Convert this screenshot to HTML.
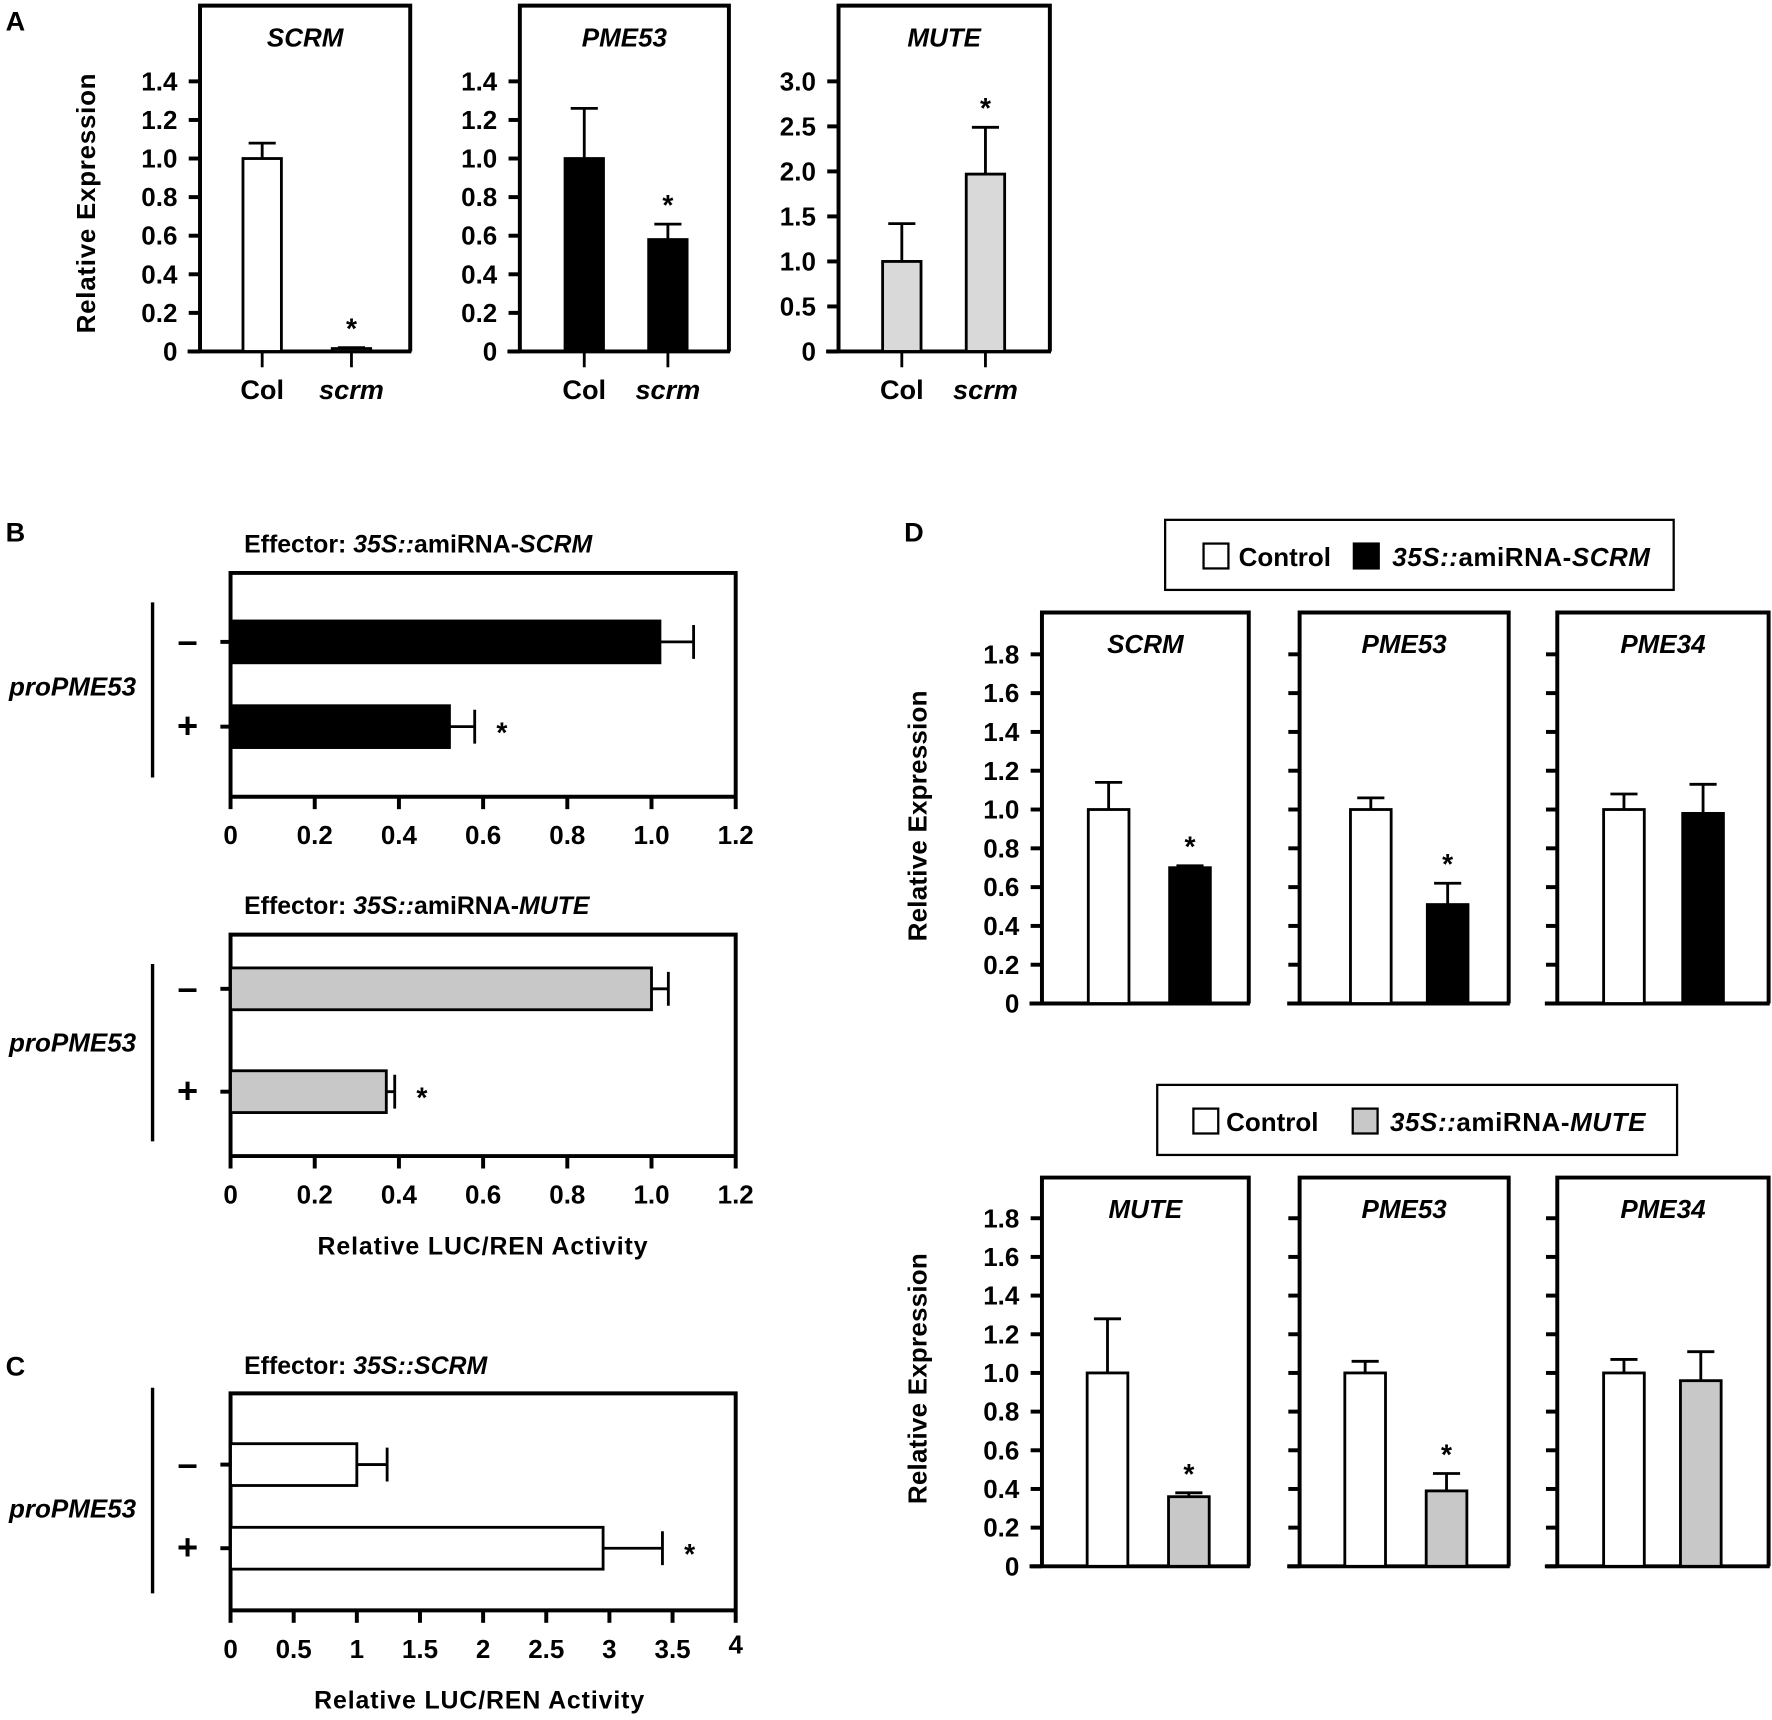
<!DOCTYPE html>
<html><head><meta charset="utf-8"><style>
html,body{margin:0;padding:0;background:#fff}
svg{display:block}
text{font-family:"Liberation Sans Narrow","Liberation Sans",sans-serif;font-weight:bold;fill:#000}
.it{font-style:italic}
</style></head><body>
<svg id="fig" xmlns="http://www.w3.org/2000/svg" width="1772" height="1720" viewBox="0 0 1568 1522" preserveAspectRatio="none">
<g id="static">
<text x="5" y="27" font-size="24">A</text>
<text x="5" y="479" font-size="24">B</text>
<text x="5" y="1217" font-size="24">C</text>
<text x="800" y="479" font-size="24">D</text>
<text transform="translate(84,180) rotate(-90)" text-anchor="middle" font-size="23" textLength="230">Relative  Expression</text>
<text transform="translate(820,722) rotate(-90)" text-anchor="middle" font-size="23" textLength="222">Relative Expression</text>
<text transform="translate(820,1220) rotate(-90)" text-anchor="middle" font-size="23" textLength="222">Relative Expression</text>
<text x="216" y="489" font-size="22">Effector: <tspan class="it">35S::</tspan>amiRNA-<tspan class="it">SCRM</tspan></text>
<text x="216" y="809" font-size="22">Effector: <tspan class="it">35S::</tspan>amiRNA-<tspan class="it">MUTE</tspan></text>
<text x="216" y="1216" font-size="22">Effector: <tspan class="it">35S::SCRM</tspan></text>
<text x="427" y="1110" text-anchor="middle" font-size="22" textLength="292">Relative LUC/REN Activity</text>
<text x="424" y="1512" text-anchor="middle" font-size="22" textLength="292">Relative LUC/REN Activity</text>
<g>
<rect x="1031" y="460" width="450" height="62" fill="#fff" stroke="#000" stroke-width="2"/>
<rect x="1065" y="481" width="22" height="22" fill="#fff" stroke="#000" stroke-width="2"/>
<text x="1096" y="501" font-size="23">Control</text>
<rect x="1198" y="481" width="22" height="22" fill="#000" stroke="#000" stroke-width="2"/>
<text x="1232" y="501" font-size="23" textLength="228"><tspan class="it">35S::</tspan>amiRNA-<tspan class="it">SCRM</tspan></text>
</g>
<g>
<rect x="1024" y="960" width="460" height="62" fill="#fff" stroke="#000" stroke-width="2"/>
<rect x="1056" y="981" width="22" height="22" fill="#fff" stroke="#000" stroke-width="2"/>
<text x="1085" y="1001" font-size="23">Control</text>
<rect x="1197" y="981" width="22" height="22" fill="#c8c8c8" stroke="#000" stroke-width="2"/>
<text x="1230" y="1001" font-size="23" textLength="226"><tspan class="it">35S::</tspan>amiRNA-<tspan class="it">MUTE</tspan></text>
</g>
</g>
<g id="charts"></g>
</svg>
<script>
// ---- Panel A data ----
const aGenes = ["SCRM", "PME53", "MUTE"];
const aCategories = ["Col", "scrm"];
const aScrmValues = [1.0, 0.015];
const aScrmErrors = [1.08, 0.02];
const aPme53Values = [1.0, 0.58];
const aPme53Errors = [1.26, 0.66];
const aMuteValues = [1.0, 1.97];
const aMuteErrors = [1.42, 2.49];
const aSignif = [[false, true], [false, true], [false, true]];
const aTicks14 = ["0", "0.2", "0.4", "0.6", "0.8", "1.0", "1.2", "1.4"];
const aTicks30 = ["0", "0.5", "1.0", "1.5", "2.0", "2.5", "3.0"];
// ---- Panel B/C data ----
const bRows = ["–", "+"];
const bScrmValues = [1.02, 0.52];
const bScrmErrors = [1.10, 0.58];
const bMuteValues = [1.00, 0.37];
const bMuteErrors = [1.04, 0.39];
const bTicks = ["0", "0.2", "0.4", "0.6", "0.8", "1.0", "1.2"];
const cScrmValues = [1.0, 2.95];
const cScrmErrors = [1.24, 3.42];
const cTicks = ["0", "0.5", "1", "1.5", "2", "2.5", "3", "3.5", "4"];
const bcSignif = [false, true];
// ---- Panel D data ----
const dTopGenes = ["SCRM", "PME53", "PME34"];
const dTopControl = [1.0, 1.0, 1.0];
const dTopControlErr = [1.14, 1.06, 1.08];
const dTopTreated = [0.70, 0.51, 0.98];
const dTopTreatedErr = [0.71, 0.62, 1.13];
const dTopSignif = [true, true, false];
const dBotGenes = ["MUTE", "PME53", "PME34"];
const dBotControl = [1.0, 1.0, 1.0];
const dBotControlErr = [1.28, 1.06, 1.07];
const dBotTreated = [0.36, 0.39, 0.96];
const dBotTreatedErr = [0.38, 0.48, 1.11];
const dBotSignif = [true, true, false];
const dTicks = ["0", "0.2", "0.4", "0.6", "0.8", "1.0", "1.2", "1.4", "1.6", "1.8"];

const NS = "http://www.w3.org/2000/svg";
const root = document.getElementById("charts");
function mk(tag, attrs, parent, txt) {
  const e = document.createElementNS(NS, tag);
  for (const k in attrs) e.setAttribute(k, attrs[k]);
  if (txt !== undefined) e.textContent = txt;
  (parent || root).appendChild(e);
  return e;
}
function grp(name) {
  const g = mk("g", {});
  
  
  return g;
}

function vchart(o) {
  const g = grp(o.name);
  const y = v => o.y0 - (v / o.max) * (o.y0 - o.yTop);
  const frame = mk("path", {d: `M${o.left},${o.y0} L${o.left},${o.boxTop} L${o.right},${o.boxTop} L${o.right},${o.y0}`, fill: "none", stroke: "#000", "stroke-width": 3.5}, g);
  
  
  const ax = mk("line", {x1: o.left - 11, x2: o.right + 1, y1: o.y0, y2: o.y0, stroke: "#000", "stroke-width": 3.5}, g);
  
  
  o.ticks.forEach((t, i) => {
    const v = parseFloat(t);
    const ty = y(v);
    const tk = mk("line", {x1: o.left - 10, x2: o.left, y1: ty, y2: ty, stroke: "#000", "stroke-width": 3.5}, g);
    
    
    if (o.labels) {
      const tl = mk("text", {x: o.left - 20, y: ty + 8, "text-anchor": "end", "font-size": 23}, g, t);
      
      
    }
  });
  const tt = mk("text", {x: (o.left + o.right) / 2, y: o.boxTop + 36, "text-anchor": "middle", "font-size": 23, class: "it"}, g, o.title);
  
  
  o.values.forEach((v, i) => {
    const cx = o.centers[i];
    const by = y(v), ey = y(o.errors[i]);
    const ebar = mk("path", {d: `M${cx},${by} L${cx},${ey} M${cx - 12},${ey} L${cx + 12},${ey}`, stroke: "#000", "stroke-width": 2.5, fill: "none"}, g);
    
    
    const b = mk("rect", {x: cx - o.bw / 2, y: by, width: o.bw, height: Math.max(o.y0 - by, 1), fill: o.fills[i], stroke: "#000", "stroke-width": 2.5}, g);
    
    
    if (o.signif[i]) {
      const s = mk("text", {x: cx, y: ey - 8, "text-anchor": "middle", "font-size": 25}, g, "*");
      
      
    }
    if (o.cats) {
      const ct = mk("line", {x1: cx, x2: cx, y1: o.y0, y2: o.y0 + 14, stroke: "#000", "stroke-width": 2.5}, g);
      
      
      const cl = mk("text", {x: cx, y: o.y0 + 42, "text-anchor": "middle", "font-size": 24, class: i === 1 ? "it" : ""}, g, o.cats[i]);
      
      
    }
  });
}

function hchart(o) {
  const g = grp(o.name);
  const x = v => o.left + (v / o.max) * (o.right - o.left);
  const fr = mk("path", {d: `M${o.left},${o.y0} L${o.left},${o.top} L${o.right},${o.top} L${o.right},${o.y0}`, fill: "none", stroke: "#000", "stroke-width": 3.5}, g);
  
  
  const ax = mk("line", {x1: o.left - 1, x2: o.right + 1, y1: o.y0, y2: o.y0, stroke: "#000", "stroke-width": 3.5}, g);
  
  
  o.ticks.forEach(t => {
    const tx = x(parseFloat(t));
    const tk = mk("line", {x1: tx, x2: tx, y1: o.y0, y2: o.y0 + 11, stroke: "#000", "stroke-width": 3.5}, g);
    
    
    const tl = mk("text", {x: tx, y: o.y0 + 42 - (t === "4" ? 4 : 0), "text-anchor": "middle", "font-size": 23}, g, t);
    
    
  });
  const br = mk("line", {x1: 135, x2: 135, y1: o.brTop, y2: o.brBot, stroke: "#000", "stroke-width": 3}, g);
  
  
  const gl = mk("text", {x: 8, y: (o.rows[0] + o.rows[1]) / 2 + 10, "font-size": 23, class: "it"}, g, "proPME53");
  
  
  o.values.forEach((v, i) => {
    const cy = o.rows[i];
    const bx = x(v), ex = x(o.errors[i]);
    const tk = mk("line", {x1: o.left - 9, x2: o.left, y1: cy, y2: cy, stroke: "#000", "stroke-width": 3.5}, g);
    
    
    const rl = mk("text", {x: 166, y: cy + 10, "text-anchor": "middle", "font-size": 32}, g, bRows[i]);
    
    
    const eb = mk("path", {d: `M${bx},${cy} L${ex},${cy} M${ex},${cy - 15} L${ex},${cy + 15}`, stroke: "#000", "stroke-width": 2.5, fill: "none"}, g);
    
    
    const b = mk("rect", {x: o.left, y: cy - o.bh / 2, width: bx - o.left, height: o.bh, fill: o.fill, stroke: "#000", "stroke-width": 2.5}, g);
    
    
    if (bcSignif[i]) {
      const s = mk("text", {x: ex + 24, y: cy + 14, "text-anchor": "middle", "font-size": 25}, g, "*");
      
      
    }
  });
}

const aLefts = [177, 460, 742], aRights = [363, 645, 929];
const aCenters = [[232, 311], [517, 591], [798, 872]];
const aVals = [aScrmValues, aPme53Values, aMuteValues];
const aErrs = [aScrmErrors, aPme53Errors, aMuteErrors];
const aFills = [["#fff", "#fff"], ["#000", "#000"], ["#d9d9d9", "#d9d9d9"]];
aGenes.forEach((gname, k) => {
  const t = k === 2 ? aTicks30 : aTicks14;
  vchart({name: "panel-a-" + gname.toLowerCase(), left: aLefts[k], right: aRights[k], boxTop: 5, y0: 311, yTop: 72,
    max: parseFloat(t[t.length - 1]), ticks: t, labels: true, title: gname, values: aVals[k], errors: aErrs[k],
    centers: aCenters[k], bw: 34, fills: aFills[k], signif: aSignif[k], cats: aCategories});
});

hchart({name: "panel-b-amirna-scrm", left: 204, right: 651, top: 507, y0: 705, max: 1.2, ticks: bTicks,
  rows: [568, 643], bh: 37, values: bScrmValues, errors: bScrmErrors, fill: "#000", brTop: 533, brBot: 688});
hchart({name: "panel-b-amirna-mute", left: 204, right: 651, top: 827, y0: 1023, max: 1.2, ticks: bTicks,
  rows: [875, 966], bh: 37, values: bMuteValues, errors: bMuteErrors, fill: "#c8c8c8", brTop: 853, brBot: 1010});
hchart({name: "panel-c-35s-scrm", left: 204, right: 651, top: 1233, y0: 1425, max: 4, ticks: cTicks,
  rows: [1296, 1370], bh: 37, values: cScrmValues, errors: cScrmErrors, fill: "#fff", brTop: 1228, brBot: 1410});

const dLefts = [922, 1150, 1378], dRights = [1105, 1335, 1565];
const dCentersTop = [[981, 1053], [1213, 1281], [1437, 1507]];
const dCentersBot = [[980, 1052], [1208, 1280], [1437, 1505]];
dTopGenes.forEach((gname, k) => {
  vchart({name: "panel-d-top-" + gname.toLowerCase(), left: dLefts[k], right: dRights[k], boxTop: 542, y0: 888, yTop: 579,
    max: 1.8, ticks: dTicks, labels: k === 0, title: gname, values: [dTopControl[k], dTopTreated[k]],
    errors: [dTopControlErr[k], dTopTreatedErr[k]], centers: dCentersTop[k], bw: 36, fills: ["#fff", "#000"],
    signif: [false, dTopSignif[k]]});
});
dBotGenes.forEach((gname, k) => {
  vchart({name: "panel-d-bottom-" + gname.toLowerCase(), left: dLefts[k], right: dRights[k], boxTop: 1042, y0: 1386, yTop: 1078,
    max: 1.8, ticks: dTicks, labels: k === 0, title: gname, values: [dBotControl[k], dBotTreated[k]],
    errors: [dBotControlErr[k], dBotTreatedErr[k]], centers: dCentersBot[k], bw: 36, fills: ["#fff", "#c8c8c8"],
    signif: [false, dBotSignif[k]]});
});
</script>
</body></html>
